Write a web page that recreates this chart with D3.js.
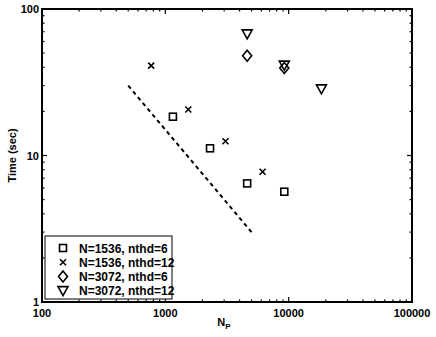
<!DOCTYPE html>
<html>
<head>
<meta charset="utf-8">
<script src="https://cdn.jsdelivr.net/npm/d3@7"></script>
<style>
  body { margin: 0; background: #fff; }
  text { font-family: "Liberation Sans", Arial, sans-serif; font-weight: bold; fill: #000; }
</style>
</head>
<body>
<div id="chart"></div>
<script>
  const WIDTH = 436;
  const HEIGHT = 337;
  const margin = { top: 9, right: 24, bottom: 35, left: 42 };

  // data
  const seriesNames = ["N=1536, nthd=6", "N=1536, nthd=12", "N=3072, nthd=6", "N=3072, nthd=12"];
  const seriesSymbols = ["square", "cross", "diamond", "triangle"];
  const np1536nthd6 = [1152, 2304, 4608, 9216];
  const time1536nthd6 = [18.4, 11.2, 6.45, 5.66];
  const np1536nthd12 = [768, 1536, 3072, 6144];
  const time1536nthd12 = [41.1, 20.6, 12.5, 7.74];
  const np3072nthd6 = [4608, 9216];
  const time3072nthd6 = [47.9, 39.5];
  const np3072nthd12 = [4608, 9216, 18432];
  const time3072nthd12 = [67.6, 41.4, 28.5];
  const idealNp = [500, 5000];
  const idealTime = [30, 3];
  const xTickLabels = ["100", "1000", "10000", "100000"];
  const yTickLabels = ["1", "10", "100"];

  const series = [
    { x: np1536nthd6, y: time1536nthd6 },
    { x: np1536nthd12, y: time1536nthd12 },
    { x: np3072nthd6, y: time3072nthd6 },
    { x: np3072nthd12, y: time3072nthd12 }
  ];

  const svg = d3.select("#chart").append("svg")
    .attr("width", WIDTH)
    .attr("height", HEIGHT);

  const x = d3.scaleLog().domain([100, 100000]).range([margin.left, WIDTH - margin.right]);
  const y = d3.scaleLog().domain([1, 100]).range([HEIGHT - margin.bottom, margin.top]);

  const x0 = x.range()[0], x1 = x.range()[1];
  const y0 = y.range()[0], y1 = y.range()[1];

  // minor + major ticks, drawn inward on all four sides
  const xTicks = x.ticks();
  const yTicks = y.ticks();
  const isMajor = (v) => Math.abs(Math.log10(v) - Math.round(Math.log10(v))) < 1e-9;

  const ticks = svg.append("g").attr("stroke", "#000").attr("stroke-width", 1.2);
  xTicks.forEach((v) => {
    const len = isMajor(v) ? 5 : 2.5;
    ticks.append("line").attr("x1", x(v)).attr("x2", x(v)).attr("y1", y0).attr("y2", y0 - len);
    ticks.append("line").attr("x1", x(v)).attr("x2", x(v)).attr("y1", y1).attr("y2", y1 + len);
  });
  yTicks.forEach((v) => {
    const len = isMajor(v) ? 5 : 2.5;
    ticks.append("line").attr("y1", y(v)).attr("y2", y(v)).attr("x1", x0).attr("x2", x0 + len);
    ticks.append("line").attr("y1", y(v)).attr("y2", y(v)).attr("x1", x1).attr("x2", x1 - len);
  });

  svg.append("rect")
    .attr("x", x0).attr("y", y1)
    .attr("width", x1 - x0).attr("height", y0 - y1)
    .attr("fill", "none").attr("stroke", "#000").attr("stroke-width", 2);

  // tick labels
  svg.append("g").selectAll("text").data(xTickLabels).join("text")
    .attr("x", (d) => x(+d))
    .attr("y", y0 + 15)
    .attr("text-anchor", "middle")
    .attr("font-size", 11)
    .text((d) => d);

  svg.append("g").selectAll("text").data(yTickLabels).join("text")
    .attr("x", x0 - 3)
    .attr("y", (d) => y(+d) + 4)
    .attr("text-anchor", "end")
    .attr("font-size", 11)
    .text((d) => d);

  // axis titles
  const xTitle = svg.append("text")
    .attr("x", (x0 + x1) / 2 - 3)
    .attr("y", HEIGHT - 11)
    .attr("text-anchor", "middle")
    .attr("font-size", 11);
  xTitle.append("tspan").text("N");
  xTitle.append("tspan").attr("font-size", 8).attr("dy", 3).text("P");

  svg.append("text")
    .attr("transform", `translate(16,${(y0 + y1) / 2}) rotate(-90)`)
    .attr("text-anchor", "middle")
    .attr("font-size", 11)
    .text("Time (sec)");

  // symbols
  function drawSymbol(g, kind, cx, cy) {
    if (kind === "square") {
      g.append("rect").attr("x", cx - 3.5).attr("y", cy - 3.5).attr("width", 7).attr("height", 7)
        .attr("fill", "none").attr("stroke", "#000").attr("stroke-width", 1.6);
    } else if (kind === "cross") {
      g.append("path").attr("d", `M${cx - 3},${cy - 3}L${cx + 3},${cy + 3}M${cx - 3},${cy + 3}L${cx + 3},${cy - 3}`)
        .attr("fill", "none").attr("stroke", "#000").attr("stroke-width", 1.6);
    } else if (kind === "diamond") {
      g.append("path").attr("d", `M${cx},${cy - 5.5}L${cx + 4.5},${cy}L${cx},${cy + 5.5}L${cx - 4.5},${cy}Z`)
        .attr("fill", "none").attr("stroke", "#000").attr("stroke-width", 1.6);
    } else {
      g.append("path").attr("d", `M${cx - 5},${cy - 4}L${cx + 5},${cy - 4}L${cx},${cy + 5}Z`)
        .attr("fill", "none").attr("stroke", "#000").attr("stroke-width", 1.6);
    }
  }

  const marks = svg.append("g");
  series.forEach((s, i) => {
    s.x.forEach((v, j) => drawSymbol(marks, seriesSymbols[i], x(v), y(s.y[j])));
  });

  // ideal scaling line
  svg.append("path")
    .datum(idealNp.map((v, i) => [v, idealTime[i]]))
    .attr("d", d3.line().x((d) => x(d[0])).y((d) => y(d[1])))
    .attr("fill", "none").attr("stroke", "#000").attr("stroke-width", 2)
    .attr("stroke-dasharray", "4,3.5");

  // legend
  const legend = svg.append("g").attr("transform", "translate(45,236)");
  legend.append("rect").attr("x", 0).attr("y", 0).attr("width", 127).attr("height", 63)
    .attr("fill", "#fff").attr("stroke", "#000").attr("stroke-width", 1);
  seriesNames.forEach((name, i) => {
    const cy = 12 + i * 14.2;
    drawSymbol(legend, seriesSymbols[i], 18, cy);
    legend.append("text").attr("x", 34).attr("y", cy + 4.5).attr("font-size", 12).text(name);
  });
</script>
</body>
</html>
